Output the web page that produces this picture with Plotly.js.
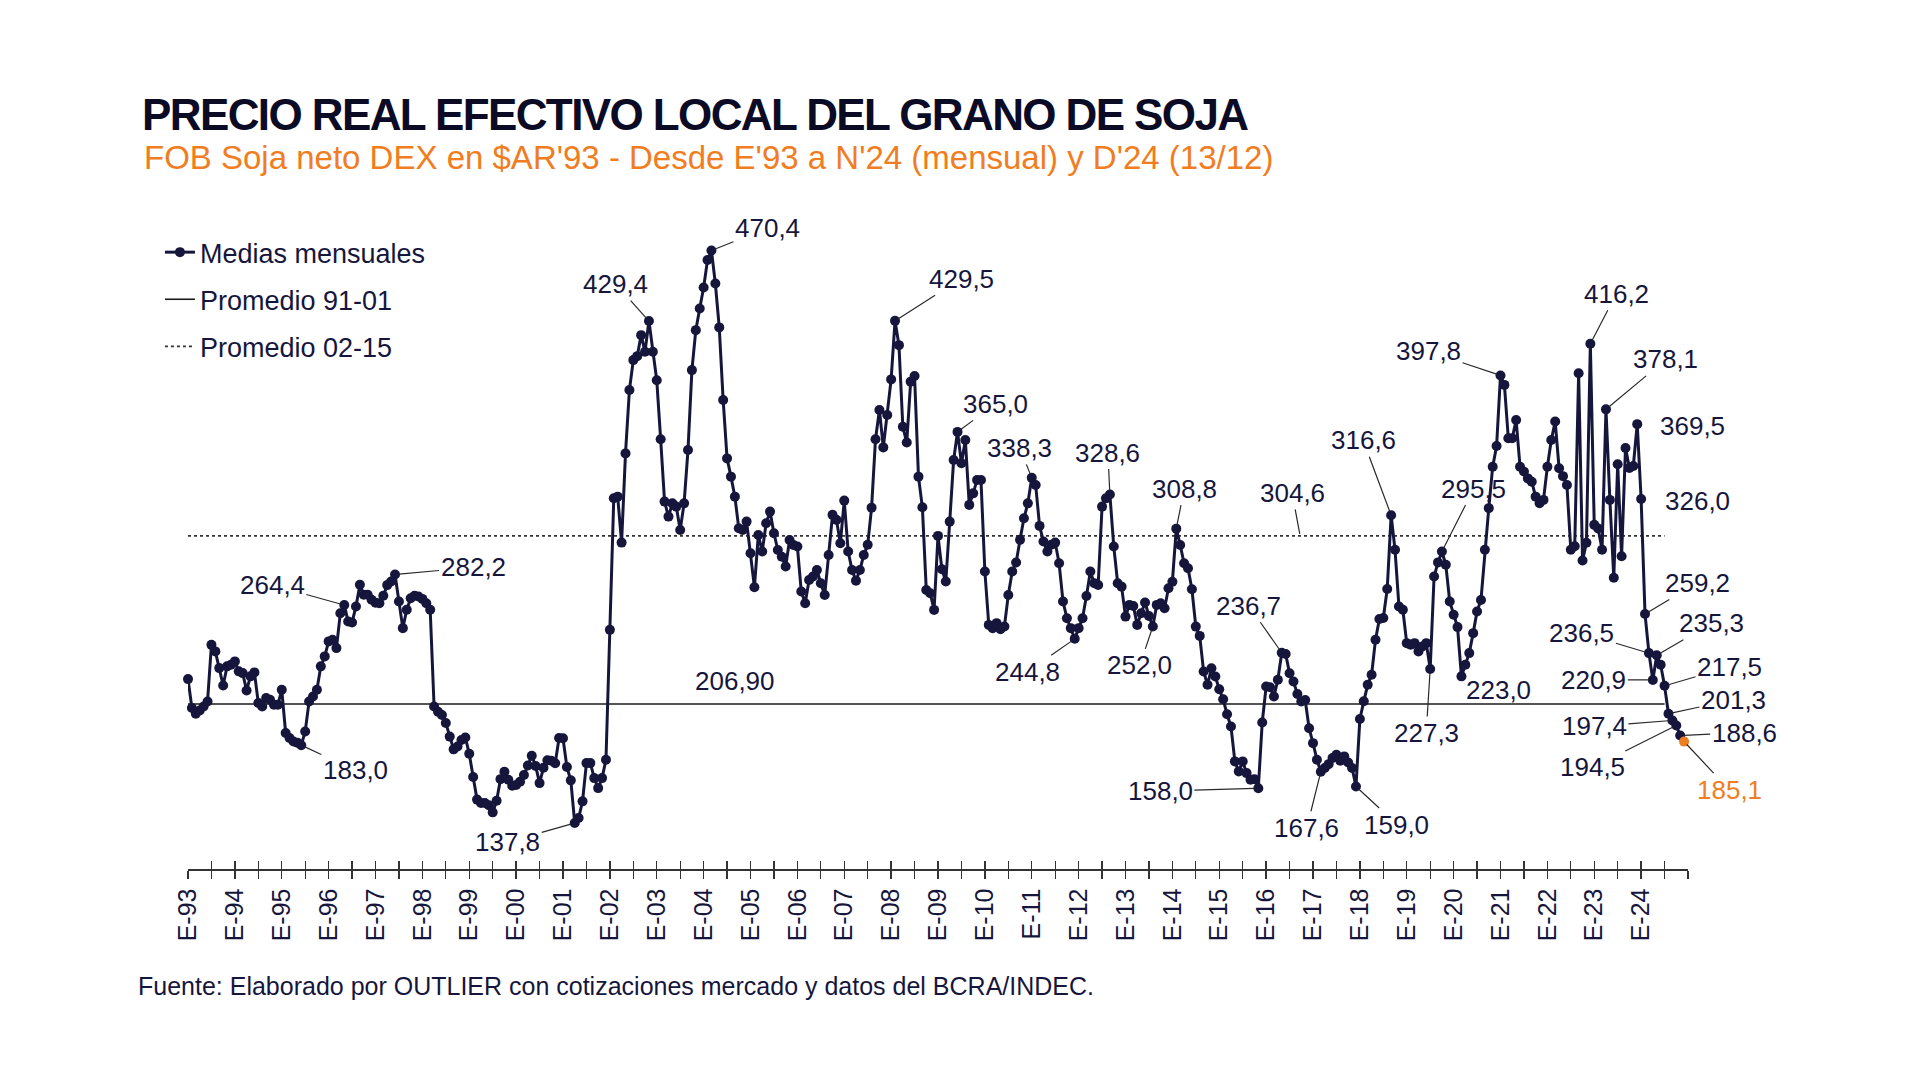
<!DOCTYPE html>
<html><head><meta charset="utf-8">
<script src="https://cdn.plot.ly/plotly-3.0.1.min.js"></script>
<style>html,body{margin:0;padding:0;background:#fff;} #chart{width:1920px;height:1090px;} .gtitle{letter-spacing:-1.6px;}</style>
</head><body><div id="chart"></div>
<script>
// Medias mensuales, FOB Soja neto DEX en $AR'93 (E = enero ... D = diciembre)
const v1993 = [221.4, 204.6, 201.3, 203.2, 205.5, 208.4, 241.3, 237.5, 227.8, 217.7, 228.8, 229.7];
const v1994 = [231.7, 225.9, 224.9, 214.8, 223.0, 225.3, 207.5, 205.5, 210.4, 209.4, 206.5, 206.5];
const v1995 = [215.2, 190.1, 187.2, 185.2, 184.5, 183.0, 191.0, 208.4, 211.3, 215.2, 228.8, 234.6];
const v1996 = [243.3, 244.2, 239.4, 259.7, 264.4, 254.9, 254.3, 263.6, 276.2, 270.4, 270.4, 267.5];
const v1997 = [265.8, 265.5, 269.8, 276.0, 278.1, 282.2, 266.5, 251.0, 261.7, 268.4, 269.8, 269.4];
const v1998 = [268.0, 265.5, 261.7, 205.5, 202.4, 200.6, 195.9, 188.0, 180.6, 182.3, 186.0, 187.5];
const v1999 = [178.0, 164.5, 151.4, 149.4, 149.4, 148.2, 144.0, 150.7, 163.3, 167.6, 162.9, 159.5];
const v2000 = [159.9, 161.8, 165.7, 171.2, 176.9, 170.9, 161.0, 169.9, 174.2, 174.0, 172.5, 187.2];
const v2001 = [187.0, 170.3, 162.6, 137.8, 140.7, 150.4, 172.6, 172.6, 163.9, 158.1, 163.9, 174.6];
const v2002 = [250.0, 326.5, 327.4, 300.7, 352.5, 389.3, 406.7, 409.0, 421.2, 411.6, 429.4, 411.6];
const v2003 = [395.0, 360.7, 324.5, 315.8, 323.5, 321.6, 308.0, 323.5, 354.5, 400.9, 424.1, 436.7];
const v2004 = [448.9, 464.8, 470.4, 451.2, 425.7, 383.5, 349.6, 339.0, 327.4, 309.0, 308.0, 312.9];
const v2005 = [294.5, 274.8, 305.1, 295.5, 311.9, 318.7, 306.1, 296.4, 292.5, 286.8, 302.2, 299.3];
const v2006 = [298.4, 272.3, 265.5, 279.0, 281.0, 284.8, 277.1, 270.3, 293.5, 316.8, 313.9, 300.3];
const v2007 = [325.1, 295.5, 284.8, 278.6, 284.8, 293.5, 299.4, 321.0, 360.7, 377.7, 356.0, 374.8];
const v2008 = [395.5, 429.5, 415.4, 368.0, 358.8, 394.2, 397.5, 339.0, 321.2, 273.2, 271.3, 261.6];
const v2009 = [304.6, 285.2, 278.1, 312.9, 348.7, 365.0, 346.8, 360.3, 322.6, 329.3, 337.1, 337.1];
const v2010 = [283.9, 252.9, 251.0, 253.9, 250.4, 252.0, 270.3, 283.9, 289.1, 302.3, 314.8, 323.5];
const v2011 = [338.3, 334.2, 310.4, 301.3, 295.5, 299.4, 300.7, 288.7, 266.5, 256.8, 251.0, 244.8];
const v2012 = [251.0, 256.8, 269.7, 283.9, 277.1, 276.1, 321.6, 326.4, 328.6, 298.4, 277.1, 275.1];
const v2013 = [257.7, 264.5, 263.9, 252.9, 259.7, 265.9, 258.1, 252.0, 264.5, 265.4, 262.6, 274.2];
const v2014 = [278.0, 308.8, 299.3, 288.7, 285.8, 273.6, 251.9, 246.5, 225.8, 218.1, 227.7, 222.9];
const v2015 = [215.5, 209.7, 201.0, 193.9, 173.6, 167.8, 173.6, 166.8, 162.9, 163.3, 158.0, 196.2];
const v2016 = [217.1, 216.7, 211.3, 221.0, 236.7, 236.0, 224.8, 220.0, 212.8, 208.4, 209.3, 192.9];
const v2017 = [184.2, 174.6, 167.6, 169.8, 172.0, 175.6, 177.5, 174.0, 176.5, 173.0, 169.8, 159.0];
const v2018 = [198.2, 208.5, 218.1, 223.9, 244.3, 256.3, 256.9, 273.7, 316.6, 296.5, 263.6, 261.7];
const v2019 = [242.3, 241.4, 242.3, 237.5, 240.4, 242.3, 227.3, 281.0, 289.2, 295.5, 287.8, 266.5];
const v2020 = [258.8, 251.6, 223.0, 229.7, 236.5, 248.1, 260.7, 267.4, 296.5, 320.7, 344.8, 356.8];
const v2021 = [397.8, 392.3, 361.3, 361.3, 371.9, 344.8, 342.0, 338.0, 336.0, 327.4, 323.6, 325.5];
const v2022 = [344.8, 360.3, 371.0, 343.9, 339.3, 334.2, 296.5, 298.6, 399.1, 290.3, 300.6, 416.2];
const v2023 = [311.0, 308.9, 296.5, 378.1, 325.5, 280.3, 346.2, 292.8, 355.6, 344.1, 345.2, 369.5];
const v2024 = [326.0, 259.2, 236.5, 220.9, 235.3, 229.7, 217.5, 201.3, 197.4, 194.5, 188.6, 185.1];

const tickLabels = ['E-93','E-94','E-95','E-96','E-97','E-98','E-99','E-00','E-01','E-02','E-03','E-04','E-05','E-06','E-07','E-08','E-09','E-10','E-11','E-12','E-13','E-14','E-15','E-16','E-17','E-18','E-19','E-20','E-21','E-22','E-23','E-24'];

const promedio9101 = 206.90;
const promedio0215 = 304.6;
const tramoPromedios = [0, 378];            // meses (índice) que cubren las líneas de promedio

// puntos rotulados (índice de mes)
const mesesRotulados = [29, 40, 53, 99, 118, 134, 181, 197, 216, 227, 236, 247, 253, 274, 280, 290, 299, 308, 318, 321, 326, 336, 359, 363, 371, 372, 373, 374, 375, 376, 378, 379, 380, 381, 382, 383];

// ---- estilo ----
const desplazamientos = {
  29:[54,25,1], 40:[-72,-20,1], 53:[78,-7,1], 99:[-67,19,1], 118:[-33,-37,1], 134:[56,-22,1],
  181:[66,-42,1], 197:[38,-28,1], 216:[-12,-30,1], 227:[-47,33,1], 236:[-2,-42,1], 247:[-13,39,1],
  253:[8,-40,1], 274:[-98,3,1], 280:[-33,-47,1], 290:[-14,56,1], 299:[41,38,1], 308:[-28,-75,1],
  318:[-4,64,1], 321:[32,-63,1], 326:[37,14,0], 336:[-72,-24,1], 359:[26,-50,1], 363:[60,-50,1],
  371:[55,2,0], 372:[56,2,0], 373:[52,-31,1], 374:[-67,-20,1], 375:[-59,0,1], 376:[55,-32,1],
  378:[65,-19,1], 379:[65,-14,1], 380:[-78,6,1], 381:[-84,42,1], 382:[64,-3,1], 383:[45,48,1]
};
const NAVY = '#16163d';
const ORANGE = '#f07d22';
const FONT = 'Liberation Sans, Arial, sans-serif';

const valores = [].concat(v1993,v1994,v1995,v1996,v1997,v1998,v1999,v2000,v2001,v2002,v2003,v2004,v2005,v2006,v2007,v2008,v2009,v2010,v2011,v2012,v2013,v2014,v2015,v2016,v2017,v2018,v2019,v2020,v2021,v2022,v2023,v2024);
const meses = valores.map((_, i) => i);
const coloresPuntos = valores.map((_, i) => i === valores.length - 1 ? ORANGE : NAVY);

const tickvals = [], ticktext = [];
for (let i = 0; i <= tickLabels.length * 12; i += 6) {
  tickvals.push(i);
  ticktext.push(i % 12 === 0 && tickLabels[i / 12] ? tickLabels[i / 12] : '');
}

const fmt = v => v.toFixed(1).replace('.', ',');

const traces = [
  { x: tramoPromedios, y: [promedio9101, promedio9101], mode: 'lines', name: 'Promedio 91-01',
    line: { color: '#1b1b1b', width: 1.6 }, legendgroup: 'b', legendrank: 2, hoverinfo: 'skip' },
  { x: tramoPromedios, y: [promedio0215, promedio0215], mode: 'lines', name: 'Promedio 02-15',
    line: { color: '#333', width: 1.6, dash: 'dot' }, legendgroup: 'c', legendrank: 3, hoverinfo: 'skip' },
  { x: meses, y: valores, mode: 'lines+markers', name: 'Medias mensuales', cliponaxis: false,
    line: { color: NAVY, width: 3 }, marker: { size: 10, color: coloresPuntos },
    legendgroup: 'a', legendrank: 1 },
  { x: [], y: [], xaxis: 'x2', showlegend: false, hoverinfo: 'skip' }
];

const annotations = mesesRotulados.map(m => {
  const d = desplazamientos[m];
  const last = m === valores.length - 1;
  return {
    x: m, y: valores[m], xref: 'x', yref: 'y', text: fmt(valores[m]),
    showarrow: true, ax: d[0], ay: d[1], arrowhead: 0, arrowwidth: 1.2, standoff: 4,
    arrowcolor: d[2] ? '#2a2a2a' : 'rgba(0,0,0,0)',
    font: { family: FONT, size: 26, color: last ? ORANGE : NAVY }
  };
});
annotations.push({ x: 284.7, y: promedio0215, xref: 'x', yref: 'y', text: fmt(promedio0215),
  showarrow: true, ax: -8, ay: -43, arrowhead: 0, arrowwidth: 1.2, standoff: 2, arrowcolor: '#2a2a2a',
  font: { family: FONT, size: 26, color: NAVY } });
annotations.push({ x: 140, y: promedio9101, xref: 'x', yref: 'y', text: promedio9101.toFixed(2).replace('.', ','),
  showarrow: true, ax: 0, ay: -23, arrowcolor: 'rgba(0,0,0,0)', font: { family: FONT, size: 26, color: NAVY } });
annotations.push({ xref: 'paper', yref: 'paper', x: -0.0307, y: 1.063, xanchor: 'left', yanchor: 'middle',
  showarrow: false, text: "FOB Soja neto DEX en $AR'93 - Desde E'93 a N'24 (mensual) y D'24 (13/12)",
  font: { family: FONT, size: 33, color: ORANGE } });
annotations.push({ xref: 'paper', yref: 'paper', x: -0.035, y: -0.1744, xanchor: 'left', yanchor: 'middle',
  showarrow: false, text: 'Fuente: Elaborado por OUTLIER con cotizaciones mercado y datos del BCRA/INDEC.',
  font: { family: FONT, size: 25, color: NAVY } });

const layout = {
  width: 1920, height: 1090,
  margin: { l: 188, r: 232, t: 200, b: 220.7 },
  paper_bgcolor: '#ffffff', plot_bgcolor: '#ffffff',
  font: { family: FONT, color: NAVY },
  title: { text: 'PRECIO REAL EFECTIVO LOCAL DEL GRANO DE SOJA', xref: 'container', yref: 'container',
    x: 142 / 1920, xanchor: 'left', y: 1 - 115 / 1090, yanchor: 'middle',
    font: { family: 'Liberation Sans Narrow, Arial Narrow, Liberation Sans, Arial', size: 44, weight: 'bold', color: '#0b0b26' } },
  xaxis: { range: [0, 384], tickmode: 'array', tickvals: tickvals, ticktext: ticktext, tickangle: -90,
    ticks: 'outside', ticklen: 8, tickwidth: 1.3, tickcolor: '#333', showline: true, linecolor: '#333', linewidth: 1.5,
    showgrid: false, zeroline: false, tickfont: { family: FONT, size: 25, color: NAVY } },
  xaxis2: { overlaying: 'x', anchor: 'y', side: 'bottom', range: [0, 384], tickmode: 'array', tickvals: tickvals,
    ticks: 'inside', ticklen: 8, tickwidth: 1.3, tickcolor: '#333', showticklabels: false, showline: false,
    showgrid: false, zeroline: false },
  yaxis: { range: [111.1, 499.7], visible: false, showgrid: false, zeroline: false },
  showlegend: true,
  legend: { x: -0.0187, y: 0.958, xanchor: 'left', yanchor: 'top', traceorder: 'grouped', tracegroupgap: 9,
    font: { family: FONT, size: 27, color: NAVY }, bgcolor: 'rgba(0,0,0,0)' },
  annotations: annotations,
  hovermode: false
};

Plotly.newPlot('chart', traces, layout, { displayModeBar: false, staticPlot: true });
</script>
</body></html>
